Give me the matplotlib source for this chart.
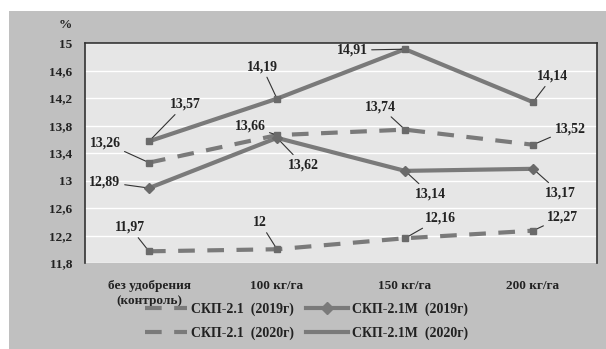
import matplotlib
matplotlib.use('Agg')
import matplotlib.pyplot as plt
from matplotlib.lines import Line2D
from matplotlib.patches import Rectangle

plt.rcParams['font.family'] = ['Liberation Serif', 'DejaVu Serif']
plt.rcParams['font.weight'] = 'bold'

# Fertilizer doses on the x axis
categories = ['без удобрения\n(контроль)', '100 кг/га', '150 кг/га', '200 кг/га']

# Protein content, %
skp21_2019 = [13.26, 13.66, 13.74, 13.52]
skp21_2020 = [11.97, 12.00, 12.16, 12.27]
skp21m_2019 = [12.89, 13.62, 13.14, 13.17]
skp21m_2020 = [13.57, 14.19, 14.91, 14.14]

series_names = ['СКП-2.1  (2019г)', 'СКП-2.1  (2020г)',
                'СКП-2.1М  (2019г)', 'СКП-2.1М  (2020г)']

yticks = [11.8, 12.2, 12.6, 13, 13.4, 13.8, 14.2, 14.6, 15]

# label offsets (pixels) from each point, same order as the values
off_21_2019 = [(-44, 20), (-27, 9), (-25, 23), (37, 16)]
off_21_2020 = [(-19, 24), (-17, 27), (35, 20), (30, 14)]
off_21m_2019 = [(-44, 6), (26, -27), (25, -23), (27, -24)]
off_21m_2020 = [(36, 37), (-15, 32), (-53, -1), (20, 26)]

line_col = '#7a7a7a'
text_col = '#222222'

fig = plt.figure(figsize=(6.06, 3.49), dpi=100, facecolor='white')
# grey panel behind the chart
fig.patches.append(Rectangle((9 / 606, 0), 1, 1 - 11 / 349, transform=fig.transFigure,
                             facecolor='#c0c0c0', edgecolor='none', zorder=-1))

ax = fig.add_axes([85 / 606, 86 / 349, 512 / 606, 220 / 349])
ax.set_facecolor('#e6e6e6')

x = list(range(len(categories)))


def fmt(v):
    s = ('%.2f' % v).rstrip('0').rstrip('.')
    return s.replace('.', ',')


def draw(values, offsets, dashed, marker):
    kw = dict(color=line_col, lw=3, solid_capstyle='butt', zorder=3)
    if dashed:
        ax.plot(x, values, dashes=(4, 3), **kw)
    else:
        ax.plot(x, values, **kw)
    ax.plot(x, values, ls='none', marker=marker, ms=5 if marker == 'D' else 4,
            color='#6a6a6a', zorder=4)
    for xi, v, off in zip(x, values, offsets):
        ax.annotate(fmt(v), xy=(xi, v), xytext=off, textcoords='offset pixels',
                    ha='center', va='center', fontsize=10, color=text_col,
                    arrowprops=dict(arrowstyle='-', color='#333333', lw=0.8,
                                    shrinkA=1, shrinkB=2))


draw(skp21_2019, off_21_2019, True, 's')
draw(skp21_2020, off_21_2020, True, 's')
draw(skp21m_2019, off_21m_2019, False, 'D')
draw(skp21m_2020, off_21m_2020, False, 's')

ax.set_xlim(-0.5, 3.5)
ax.set_ylim(11.8, 15)
ax.set_yticks(yticks)
ax.set_yticklabels([fmt(t) for t in yticks], fontsize=9.5, color=text_col)
ax.set_xticks(x)
ax.set_xticklabels(categories, fontsize=9.5, color=text_col, linespacing=1.4)
ax.tick_params(length=0, pad=9)
ax.tick_params(axis='x', pad=12)
ax.grid(axis='y', color='white', lw=1)
ax.set_axisbelow(True)
for side in ['left', 'top', 'right']:
    ax.spines[side].set_color('#333333')
    ax.spines[side].set_linewidth(1.2)
ax.spines['bottom'].set_visible(False)

fig.text(65 / 606, 1 - 25 / 349, '%', ha='center', va='center', fontsize=9.5, color=text_col)

handles = [
    Line2D([], [], color=line_col, lw=3, dashes=(4, 3)),
    Line2D([], [], color=line_col, lw=3, dashes=(4, 3)),
    Line2D([], [], color=line_col, lw=3, marker='D', ms=6),
    Line2D([], [], color=line_col, lw=3),
]
fig.legend(handles, series_names, ncol=2, frameon=False, fontsize=10,
           loc='center left', bbox_to_anchor=(138 / 606, 1 - 321 / 349),
           handlelength=3.0, columnspacing=0.9, handletextpad=0.3,
           labelspacing=0.75, borderpad=0, labelcolor=text_col)

fig.savefig('out.png', dpi=100, facecolor=fig.get_facecolor())
